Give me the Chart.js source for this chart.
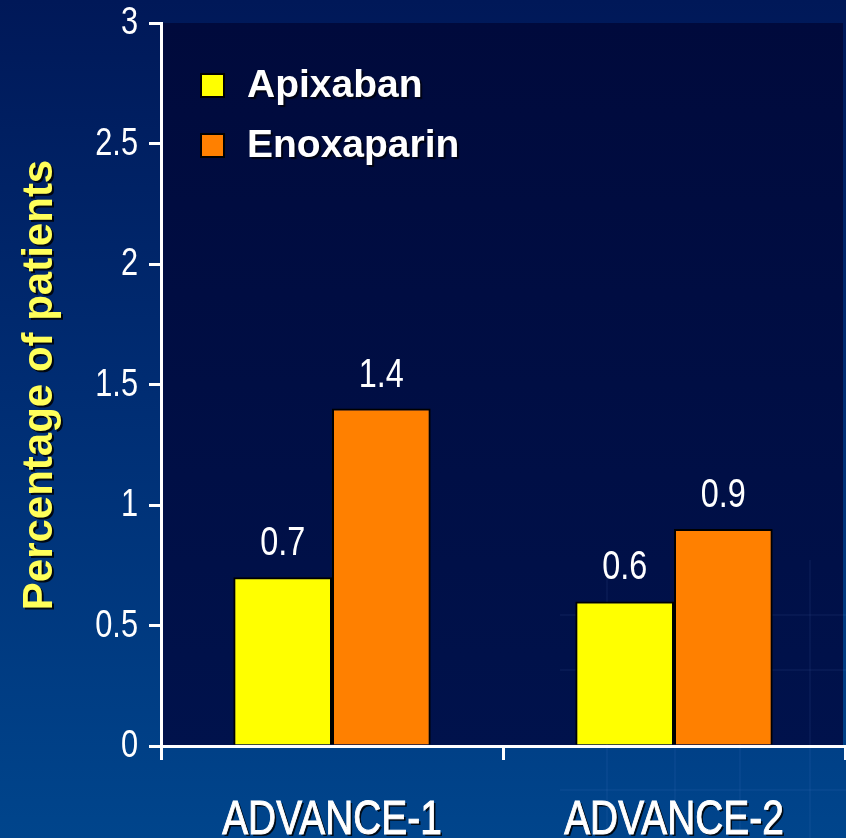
<!DOCTYPE html>
<html>
<head>
<meta charset="utf-8">
<title>Apixaban vs Enoxaparin</title>
<style>
  html, body { margin: 0; padding: 0; background: #00306e; }
  #wrap { width: 846px; height: 838px; }
  canvas { display: block; }
</style>
<script src="https://cdn.jsdelivr.net/npm/chart.js@4.4.1/dist/chart.umd.min.js"></script>
</head>
<body>
<div id="wrap"><canvas id="c" width="846" height="838"></canvas></div>
<script>
// Trials and percentages of patients per treatment arm
const trials = ['ADVANCE-1', 'ADVANCE-2'];
const apixaban = [0.7, 0.6];
const enoxaparin = [1.4, 0.9];
const yTicks = [0, 0.5, 1, 1.5, 2, 2.5, 3];
const seriesNames = ['Apixaban', 'Enoxaparin'];
const axisTitle = 'Percentage of patients';

const SANS = '"Liberation Sans", Arial, sans-serif';
const NARROW_X = 0.81; // horizontal squeeze giving a condensed face

// Draw text horizontally condensed, anchored at (x, y); optional weight stroke
function narrowText(ctx, text, x, y, size, align, baseline, heavy) {
  ctx.save();
  ctx.font = size + 'px ' + SANS;
  ctx.textAlign = align;
  ctx.textBaseline = baseline;
  ctx.translate(x, y);
  ctx.scale(NARROW_X, 1);
  ctx.fillText(text, 0, 0);
  if (heavy) {
    ctx.shadowColor = 'transparent';
    ctx.strokeStyle = ctx.fillStyle;
    ctx.lineWidth = heavy;
    ctx.strokeText(text, 0, 0);
  }
  ctx.restore();
}

// Slide-style backdrop: blue gradient page, darker navy plotting area
const backdrop = {
  id: 'backdrop',
  beforeDraw(chart) {
    const { ctx, width, height, chartArea: a } = chart;
    ctx.save();
    const g = ctx.createLinearGradient(0, 0, 0, height);
    g.addColorStop(0, '#001858');
    g.addColorStop(0.45, '#002c72');
    g.addColorStop(1, '#00458c');
    ctx.fillStyle = g;
    ctx.fillRect(0, 0, width, height);
    const g2 = ctx.createLinearGradient(0, a.top, 0, a.bottom);
    g2.addColorStop(0, '#000a3c');
    g2.addColorStop(1, '#00124c');
    ctx.fillStyle = g2;
    ctx.fillRect(a.left, a.top, a.right - a.left - 2, a.bottom - a.top);
    // faint decorative grid in the lower right corner
    ctx.strokeStyle = 'rgba(140,180,255,0.05)';
    ctx.lineWidth = 2;
    [607, 675, 740, 810].forEach(x => {
      ctx.beginPath(); ctx.moveTo(x, 560); ctx.lineTo(x, height); ctx.stroke();
    });
    [615, 670, 790].forEach(y => {
      ctx.beginPath(); ctx.moveTo(560, y); ctx.lineTo(width, y); ctx.stroke();
    });
    ctx.restore();
  }
};

// Numbers above each bar
const valueLabels = {
  id: 'valueLabels',
  afterDatasetsDraw(chart) {
    const { ctx } = chart;
    ctx.save();
    ctx.fillStyle = '#ffffff';
    chart.data.datasets.forEach((ds, i) => {
      chart.getDatasetMeta(i).data.forEach((bar, j) => {
        narrowText(ctx, String(ds.data[j]), bar.x, bar.y - 22, 40, 'center', 'alphabetic', 0);
      });
    });
    ctx.restore();
  }
};

// Tick numbers, legend, axis title and category names
const overlayText = {
  id: 'overlayText',
  afterDraw(chart) {
    const { ctx } = chart;
    const ys = chart.scales.y;
    const xs = chart.scales.x;
    ctx.save();
    // y tick numbers
    ctx.fillStyle = '#ffffff';
    ys.ticks.forEach(t => {
      narrowText(ctx, String(t.value), 138, ys.getPixelForValue(t.value) + 1, 38, 'right', 'middle', 0);
    });
    // legend
    chart.data.datasets.forEach((ds, i) => {
      const y = 74 + i * 60;
      ctx.shadowColor = 'transparent';
      ctx.fillStyle = ds.backgroundColor;
      ctx.fillRect(201, y, 23, 23);
      ctx.lineWidth = 2;
      ctx.strokeStyle = '#000000';
      ctx.strokeRect(201, y, 23, 23);
      ctx.shadowColor = 'rgba(0,0,0,0.7)';
      ctx.shadowOffsetX = 2; ctx.shadowOffsetY = 2; ctx.shadowBlur = 1;
      ctx.font = 'bold 39px ' + SANS;
      ctx.fillStyle = '#ffffff';
      ctx.textAlign = 'left';
      ctx.textBaseline = 'alphabetic';
      ctx.fillText(ds.label, 247, y + 23);
    });
    // category names under the axis
    ctx.shadowColor = 'rgba(0,0,0,0.85)';
    ctx.shadowOffsetX = 2; ctx.shadowOffsetY = 2; ctx.shadowBlur = 0;
    ctx.fillStyle = '#ffffff';
    chart.data.labels.forEach((lab, i) => {
      narrowText(ctx, lab, xs.getPixelForValue(i), 834, 48, 'center', 'alphabetic', 1);
    });
    // y axis title
    ctx.translate(52, 385);
    ctx.rotate(-Math.PI / 2);
    ctx.font = 'bold 42px ' + SANS;
    ctx.textAlign = 'center';
    ctx.textBaseline = 'alphabetic';
    ctx.fillStyle = '#ffff5a';
    ctx.shadowColor = 'rgba(0,0,0,0.85)';
    ctx.shadowOffsetX = 2; ctx.shadowOffsetY = 2;
    ctx.fillText(axisTitle, 0, 0);
    ctx.restore();
  }
};

new Chart(document.getElementById('c'), {
  type: 'bar',
  data: {
    labels: trials,
    datasets: [
      { label: seriesNames[0], data: apixaban, backgroundColor: '#ffff00', borderColor: '#000000', borderWidth: 2 },
      { label: seriesNames[1], data: enoxaparin, backgroundColor: '#ff8000', borderColor: '#000000', borderWidth: 2 }
    ]
  },
  options: {
    responsive: false,
    animation: false,
    devicePixelRatio: 1,
    layout: { padding: { top: 23, right: 1, left: 0, bottom: 0 } },
    datasets: { bar: { categoryPercentage: 0.577, barPercentage: 1.0 } },
    plugins: { legend: { display: false }, tooltip: { enabled: false } },
    scales: {
      x: {
        offset: true,
        grid: { offset: true, drawOnChartArea: false, drawTicks: true, tickLength: 14, color: '#ffffff', lineWidth: 3 },
        border: { display: true, color: '#ffffff', width: 3 },
        ticks: { display: false },
        afterFit(s) { s.height = 92; }
      },
      y: {
        min: 0, max: 3,
        afterBuildTicks(s) { s.ticks = yTicks.map(v => ({ value: v })); },
        grid: { drawOnChartArea: false, drawTicks: true, tickLength: 12, color: '#ffffff', lineWidth: 3 },
        border: { display: true, color: '#ffffff', width: 3 },
        ticks: { display: false },
        afterFit(s) { s.width = 161; }
      }
    }
  },
  plugins: [backdrop, valueLabels, overlayText]
});
</script>
</body>
</html>
